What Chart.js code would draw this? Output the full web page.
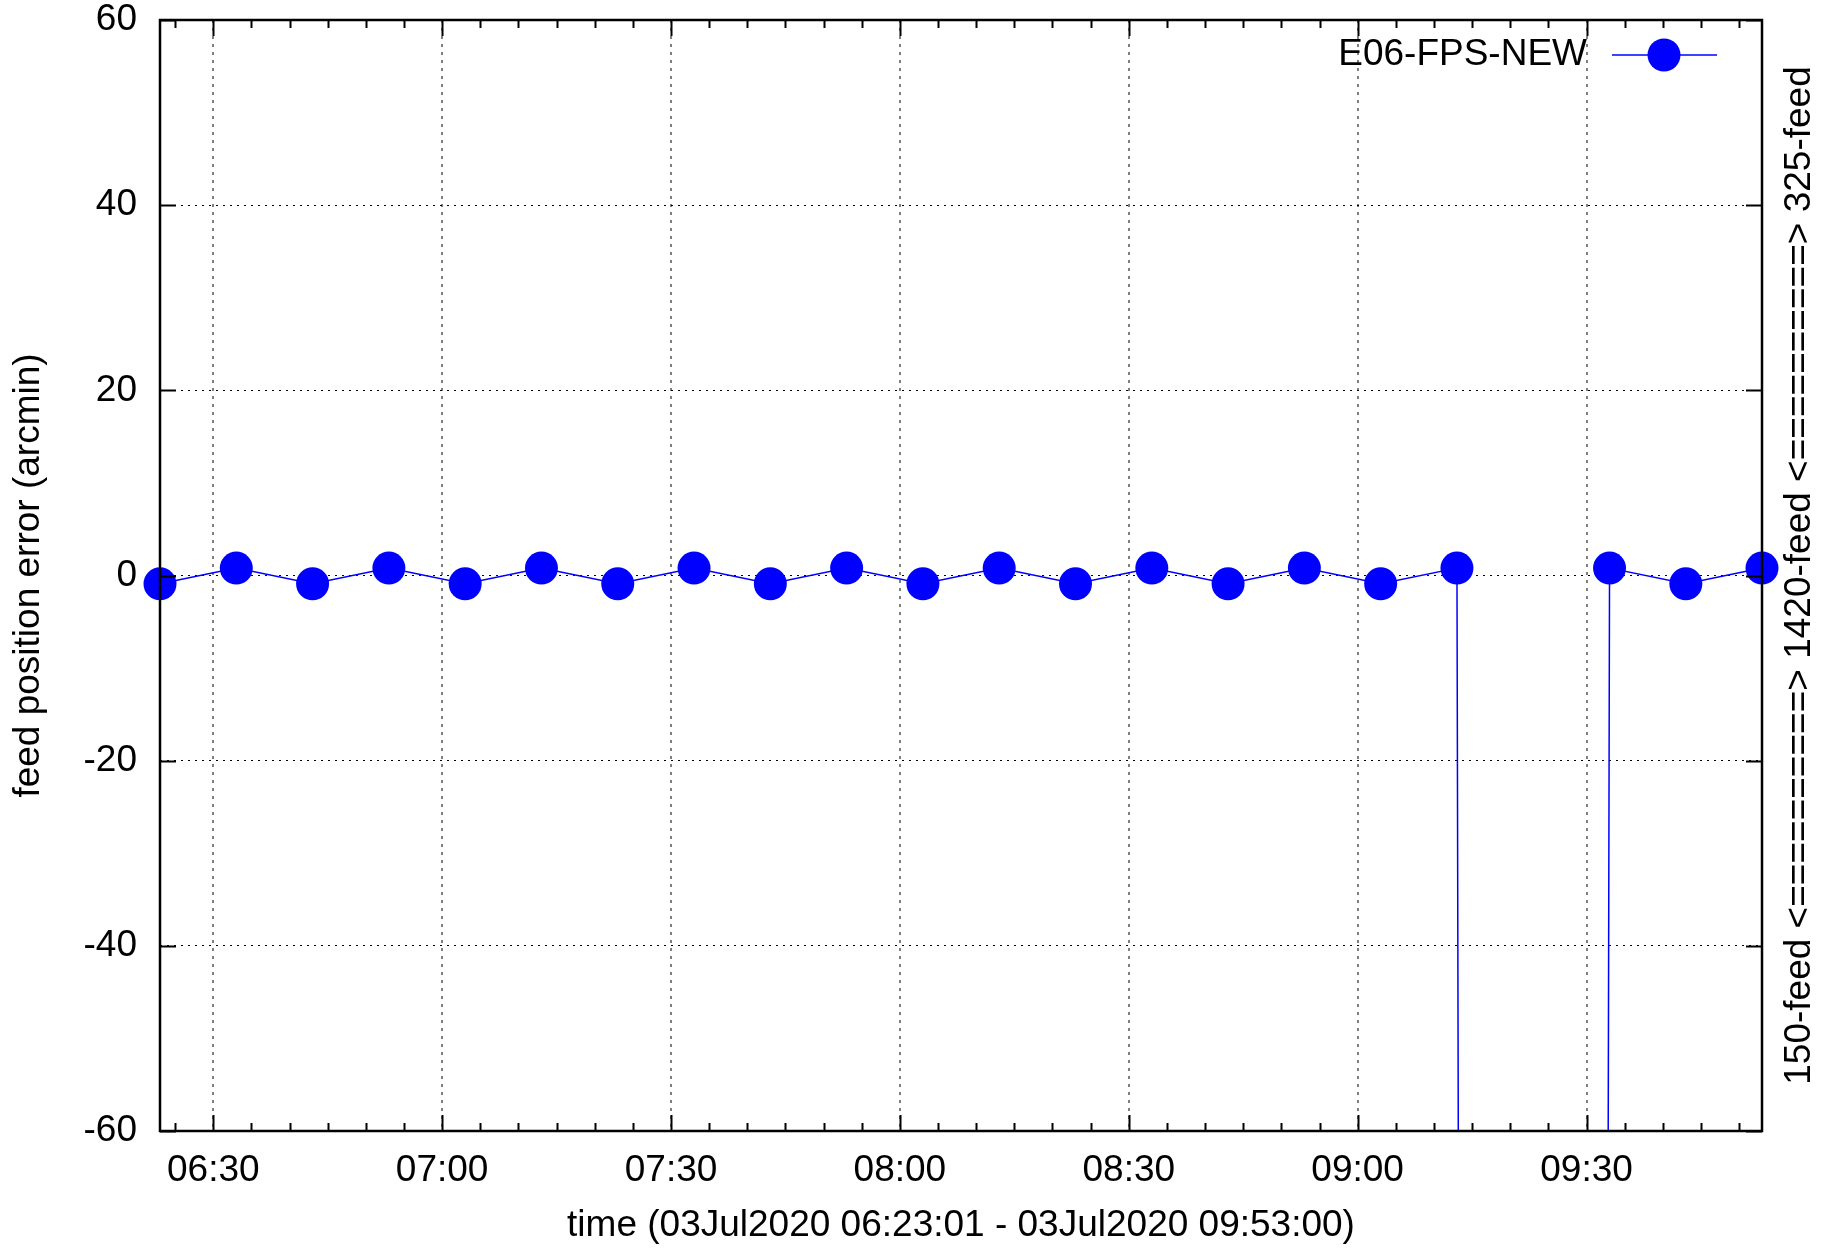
<!DOCTYPE html>
<html>
<head>
<meta charset="utf-8">
<script src="https://cdn.jsdelivr.net/npm/chart.js@4.4.1/dist/chart.umd.min.js"></script>
<style>
  html, body { margin: 0; padding: 0; background: #fff; }
  #wrap { width: 1842px; height: 1248px; }
</style>
</head>
<body>
<div id="wrap"><canvas id="fpsChart" width="1842" height="1248"></canvas></div>
<script>
// sample times and feed position error (arcmin)
const times = ["06:23:01", "06:33:01", "06:43:01", "06:53:01", "07:03:01", "07:13:01",
  "07:23:01", "07:33:01", "07:43:01", "07:53:01", "08:03:01", "08:13:01", "08:23:01",
  "08:33:01", "08:43:01", "08:53:01", "09:03:01", "09:13:01", "09:23:01", "09:33:01",
  "09:43:01", "09:53:00"];
const errors = [-0.9, 0.8, -0.9, 0.8, -0.9, 0.8, -0.9, 0.8, -0.9, 0.8, -0.9,
  0.8, -0.9, 0.8, -0.9, 0.8, -0.9, 0.8, -9999, 0.8, -0.9, 0.8];

const xStart = "06:23:01";
const xEnd = "09:53:00";
const xMajorTicks = ["06:30", "07:00", "07:30", "08:00", "08:30", "09:00", "09:30"];
const yMin = -60, yMax = 60, yStep = 20;

const seriesName = "E06-FPS-NEW";
const xTitle = "time (03Jul2020 06:23:01 - 03Jul2020 09:53:00)";
const yTitle = "feed position error (arcmin)";
const rightTitle = "150-feed <==========> 1420-feed <==========> 325-feed";

const FONT = '"Liberation Sans", Arial, sans-serif';
const BLUE = "#0000ff";

const toMin = (s) => {
  const [h, m, sec = 0] = s.split(":").map(Number);
  return h * 60 + m + sec / 60;
};
const fmt = (v) => {
  const h = Math.floor(v / 60), m = Math.round(v % 60);
  return String(h).padStart(2, "0") + ":" + String(m).padStart(2, "0");
};

// minor ticks every 5 minutes, gnuplot style
const minorTicks = [];
for (let v = Math.ceil(toMin(xStart) / 5) * 5; v <= toMin(xEnd); v += 5) {
  if (v % 30 !== 0) minorTicks.push(v);
}

// frame, inward ticks, right-hand label and legend drawn on top like gnuplot
const gnuplotFrame = {
  id: "gnuplotFrame",
  afterDatasetsDraw(chart) {
    const { ctx, chartArea: a, scales: { x, y } } = chart;
    ctx.save();
    ctx.strokeStyle = "#000";
    ctx.lineWidth = 2;
    ctx.beginPath();
    minorTicks.forEach((v) => {
      const px = Math.round(x.getPixelForValue(v)) + 0.5;
      ctx.moveTo(px, a.bottom); ctx.lineTo(px, a.bottom - 8);
      ctx.moveTo(px, a.top); ctx.lineTo(px, a.top + 8);
    });
    x.ticks.forEach((t) => {
      const px = Math.round(x.getPixelForValue(t.value)) + 0.5;
      ctx.moveTo(px, a.bottom); ctx.lineTo(px, a.bottom - 16);
      ctx.moveTo(px, a.top); ctx.lineTo(px, a.top + 16);
    });
    y.ticks.forEach((t) => {
      const py = Math.round(y.getPixelForValue(t.value)) + 0.5;
      ctx.moveTo(a.left, py); ctx.lineTo(a.left + 16, py);
      ctx.moveTo(a.right, py); ctx.lineTo(a.right - 16, py);
    });
    ctx.stroke();

    ctx.lineWidth = 2.5;
    ctx.strokeRect(a.left, a.top, a.right - a.left, a.bottom - a.top);

    // right side label
    ctx.fillStyle = "#000";
    ctx.font = "37px " + FONT;
    ctx.textAlign = "center";
    ctx.textBaseline = "middle";
    ctx.save();
    ctx.translate(a.right + 38, (a.top + a.bottom) / 2);
    ctx.rotate(-Math.PI / 2);
    ctx.fillText(rightTitle, 0, 0);
    ctx.restore();

    // legend (text left of sample)
    const ly = a.top + 35;
    ctx.textAlign = "right";
    ctx.fillText(seriesName, a.right - 175, ly);
    ctx.strokeStyle = BLUE;
    ctx.lineWidth = 1.5;
    ctx.beginPath();
    ctx.moveTo(a.right - 150, ly);
    ctx.lineTo(a.right - 45, ly);
    ctx.stroke();
    ctx.fillStyle = BLUE;
    ctx.beginPath();
    ctx.arc(a.right - 98, ly, 16.5, 0, Math.PI * 2);
    ctx.fill();
    ctx.restore();
  }
};

Chart.defaults.font.family = FONT;
Chart.defaults.color = "#000";

new Chart(document.getElementById("fpsChart"), {
  type: "line",
  data: {
    datasets: [{
      label: seriesName,
      data: times.map((t, i) => ({ x: toMin(t), y: errors[i] })),
      borderColor: BLUE,
      borderWidth: 1.5,
      backgroundColor: BLUE,
      pointBackgroundColor: BLUE,
      pointBorderWidth: 0,
      pointRadius: 16.5,
      tension: 0,
      fill: false,
      clip: { left: 20, top: 0, right: 20, bottom: 0 },
    }],
  },
  options: {
    responsive: false,
    animation: false,
    events: [],
    devicePixelRatio: 1,
    layout: { padding: { top: 20, left: 0, right: 0, bottom: 0 } },
    plugins: { legend: { display: false }, tooltip: { enabled: false } },
    scales: {
      x: {
        type: "linear",
        position: "bottom",
        min: toMin(xStart),
        max: toMin(xEnd),
        afterBuildTicks: (scale) => {
          scale.ticks = xMajorTicks.map((t) => ({ value: toMin(t) }));
        },
        afterFit: (scale) => {
          scale.height = 117;
          scale.paddingLeft = 0;
          scale.paddingRight = 0;
        },
        ticks: {
          font: { size: 37 },
          color: "#000",
          padding: 18,
          maxRotation: 0,
          autoSkip: false,
          callback: (v) => fmt(v),
        },
        grid: { drawTicks: false, color: "rgba(0,0,0,0.5)", lineWidth: 2 },
        border: { display: false, dash: [3, 5] },
        title: {
          display: true,
          text: xTitle,
          font: { size: 37 },
          color: "#000",
          padding: { top: 0, bottom: 0 },
        },
      },
      y: {
        position: "left",
        min: yMin,
        max: yMax,
        afterFit: (scale) => {
          scale.width = 160;
          scale.paddingTop = 0;
          scale.paddingBottom = 0;
        },
        ticks: { stepSize: yStep, font: { size: 37 }, color: "#000", padding: 23 },
        grid: {
          drawTicks: false,
          lineWidth: 1,
          color: (c) => (c.tick && (c.tick.value === yMin || c.tick.value === yMax)) ? "rgba(0,0,0,0)" : "#000",
        },
        border: { display: false, dash: [2, 5] },
        title: {
          display: true,
          text: yTitle,
          font: { size: 37 },
          color: "#000",
          padding: { top: 7, bottom: 0 },
        },
      },
      y2: {
        position: "right",
        min: yMin,
        max: yMax,
        afterFit: (scale) => {
          scale.width = 80;
          scale.paddingTop = 0;
          scale.paddingBottom = 0;
        },
        ticks: { display: false },
        grid: { display: false, drawTicks: false },
        border: { display: false },
      },
    },
  },
  plugins: [gnuplotFrame],
});
</script>
</body>
</html>
